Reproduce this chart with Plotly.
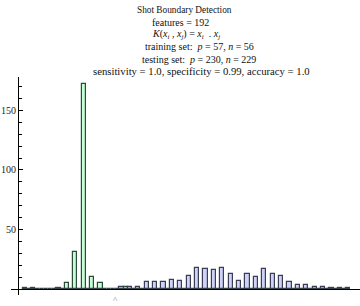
import plotly.graph_objects as go

# ---- data ----
bins = list(range(39))
positives = [1, 1, 0, 0, 1, 5, 31, 172, 10, 5, 0, 0, 2] + [0] * 26
negatives = [0] * 11 + [2, 2, 2, 6, 6, 6, 8, 7, 11, 18, 17, 16, 18, 13, 7, 13, 10,
                        17, 13, 11, 6, 3, 3, 2, 2, 1, 1, 1]
y_tickvals = [50, 100, 150]
y_ticktext = ["50", "100", "150"]

title_lines = [
    "Shot Boundary Detection",
    "features = 192",
    "<i>K</i>(<i>x</i><sub><i>i</i></sub> , <i>x</i><sub><i>j</i></sub>) = <i>x</i><sub><i>i</i></sub>  . <i>x</i><sub><i>j</i></sub>",
    "training set:  <i>p</i> = 57, <i>n</i> = 56",
    "testing set:  <i>p</i> = 230, <i>n</i> = 229",
    "sensitivity = 1.0, specificity = 0.99, accuracy = 1.0",
]

W, H = 360, 306
ml, mr, mt, mb = 11, 0, 77, 11
pw, ph = W - ml - mr, H - mt - mb

def px_x(px):
    return (px - ml) / pw

def px_y(py):
    return (H - mb - py) / ph

SERIF = "Liberation Serif"

fig = go.Figure()
fig.add_trace(go.Bar(x=bins, y=positives, name="positive",
                     marker=dict(color="#c2ffd6", line=dict(color="#2e4a38", width=1.2))))
fig.add_trace(go.Bar(x=bins, y=negatives, name="negative",
                     marker=dict(color="#cdd2f6", line=dict(color="#3a3d55", width=1.2))))

title_x = [184, 180.5, 186, 199, 199, 201]
title_y = [10, 22, 34.5, 47, 59, 71]
title_size = [9.3, 10, 10, 10, 10, 10.7]
annotations = []
for t, cx, cy, fs in zip(title_lines, title_x, title_y, title_size):
    annotations.append(dict(text=t, x=px_x(cx), y=px_y(cy), xref="paper", yref="paper",
                            xanchor="center", yanchor="middle", showarrow=False,
                            font=dict(family=SERIF, size=fs, color="#111")))
annotations.append(dict(text="^", x=px_x(115), y=px_y(300), xref="paper", yref="paper",
                        xanchor="center", yanchor="middle", showarrow=False,
                        font=dict(family=SERIF, size=9, color="#777")))

fig.update_layout(
    width=W, height=H,
    margin=dict(l=ml, r=mr, t=mt, b=mb, pad=0),
    paper_bgcolor="white", plot_bgcolor="white",
    barmode="group", bargap=0, bargroupgap=0,
    showlegend=False,
    annotations=annotations,
    xaxis=dict(range=[-1.905, 39.64], showgrid=False, zeroline=False,
               showticklabels=False, ticks="", showline=True, linecolor="black",
               linewidth=1.2, anchor="free", position=5 / 183),
    yaxis=dict(range=[-5, 178], showgrid=False, zeroline=False,
               tickvals=y_tickvals, ticktext=y_ticktext, ticks="inside",
               ticklen=4, tickwidth=1, tickcolor="black",
               minor=dict(dtick=10, tick0=0, ticks="inside", ticklen=2.5,
                          tickwidth=1, tickcolor="black"),
               showline=True, linecolor="black", linewidth=1.2,
               anchor="free", position=px_x(18),
               tickfont=dict(family=SERIF, size=10, color="#222")),
)

fig.write_html("out.html")
